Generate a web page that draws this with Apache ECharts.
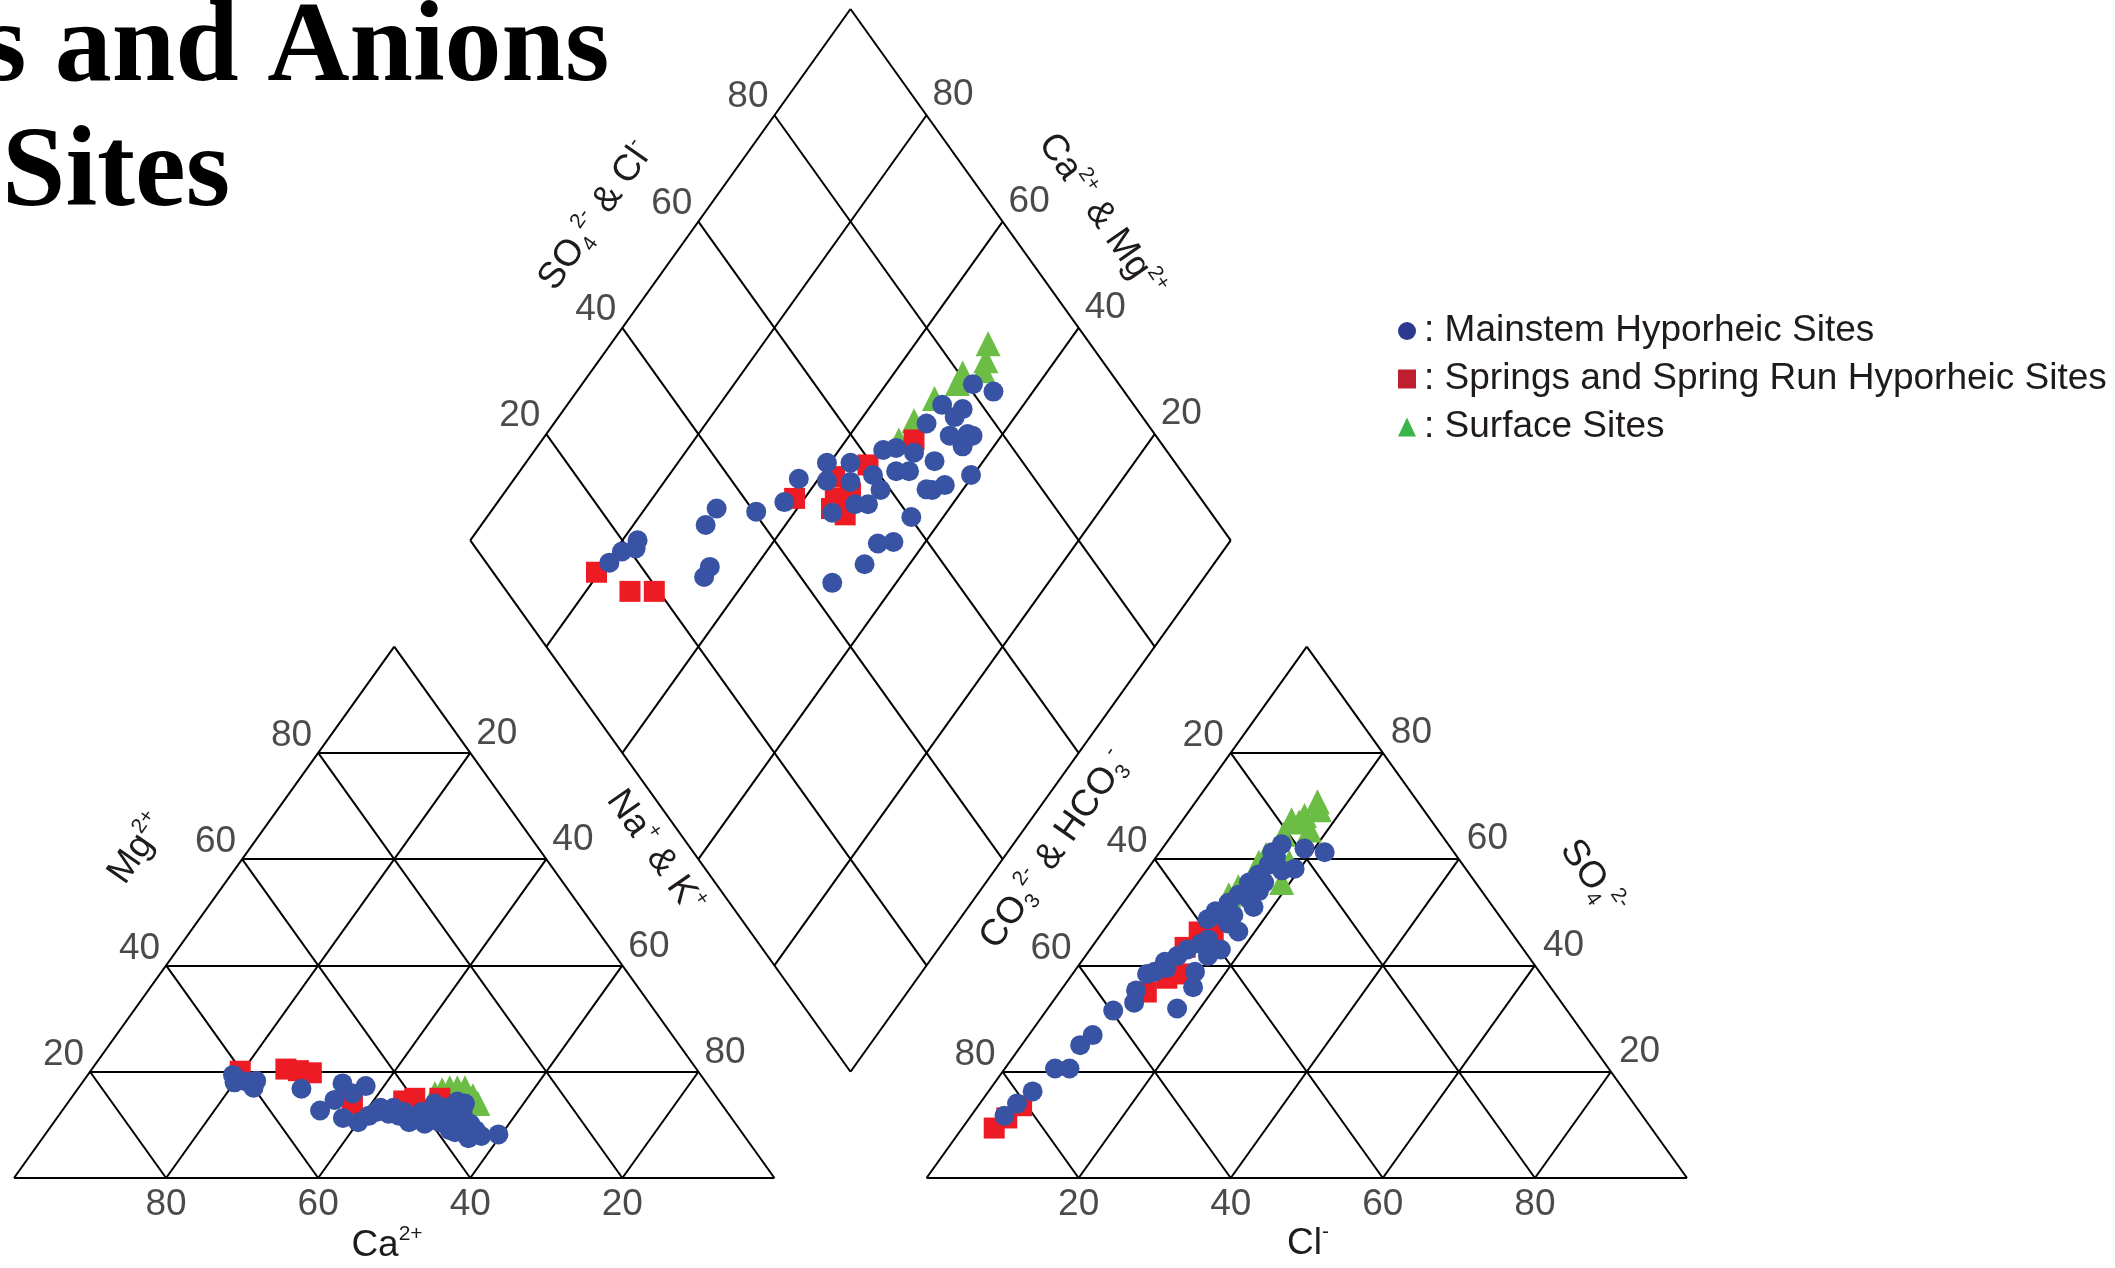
<!DOCTYPE html>
<html>
<head>
<meta charset="utf-8">
<script src="https://cdn.jsdelivr.net/npm/echarts@6/dist/echarts.min.js"></script>
<style>html,body{margin:0;padding:0;background:#fff}#c{width:2115px;height:1268px}</style>
</head>
<body>
<div id="c"></div>
<script>
// ---------------- DATA ----------------
const tickValues = [20, 40, 60, 80];
const seriesNames = ['Mainstem Hyporheic Sites', 'Springs and Spring Run Hyporheic Sites', 'Surface Sites'];

// Cation triangle: [Ca %, Mg %]  (Na+K = 100 - Ca - Mg)
const cationMainstem = [
  [60.5,18.2],[61.5,19.4],[60.0,17.0],[59.0,18.3],[62.0,18.0],
  [53.8,16.8],[47.9,17.8],[45.1,17.3],[50.5,14.7],[47.5,15.9],
  [53.4,12.7],[51.1,11.3],[49.5,10.5],[46.2,12.4],[43.5,13.2],
  [42.5,12.4],[41.7,11.3],[40.2,12.4],[38.8,11.7],[36.7,13.2],
  [38.2,9.0],[34.5,14.4],[33.7,14.0],[35.6,11.3],[34.9,10.2],
  [34.8,9.0],[36.5,7.5],[34.6,7.9],[32.2,8.2],[44.7,12.1],
  [43.5,11.7],[42.8,10.5],[40.9,10.2],[38.8,10.5],[36.6,12.1],
  [45.2,13.2],[47.5,11.7],[37.7,14.0],[34.8,12.4],[37.9,10.2],[37.7,8.6]
];
const cationSprings = [
  [60.2,20.1],[54.0,20.5],[52.5,20.2],[51.0,19.8],[48.5,14.0],[41.5,14.5],[39.8,15.0],[36.5,15.0]
];
const cationSurface = [
  [36.7,15.9],[35.4,16.6],[34.2,17.0],[33.2,17.0],[32.2,17.0],[31.9,15.5],[32.0,14.0]
];

// Anion triangle: [Cl %, SO4 %]  (CO3+HCO3 = 100 - Cl - SO4)
const anionMainstem = [
  [4.4,11.7],[4.9,14.0],[5.8,16.3],[6.6,20.6],[8.5,20.6],[7.7,25.0],[8.4,26.9],[8.8,31.5],
  [10.8,33.0],[9.9,35.3],[17.0,31.9],[17.1,35.9],[15.9,38.8],[10.6,38.8],[11.0,40.7],[12.1,41.8],
  [12.8,43.0],[14.0,44.1],[17.2,43.0],[12.6,48.7],[12.9,50.2],[13.8,51.8],[17.8,46.4],[14.4,53.3],
  [14.6,55.6],[17.5,51.0],[15.1,57.1],[16.6,55.6],[15.5,59.0],[15.7,60.5],[15.3,62.8],[17.8,57.9],
  [19.3,58.2],[18.7,62.0],[21.7,61.3],[14.6,44.9],[14.5,49.1],[15.6,49.5],[16.7,54.0],[16.1,52.5],
  [15.7,47.9],[11.8,39.5],[9.8,38.4],[16.1,41.8],[14.8,61.3]
];
const anionSprings = [
  [4.2,9.4],[4.9,11.3],[5.7,13.6],[11.4,35.0],[12.8,37.6],[14.1,38.4],[12.3,43.4],[13.5,45.6],[14.7,46.0],[12.7,46.3]
];
const anionSurface = [
  [16.0,70.8],[17.0,69.3],[15.6,68.2],[14.3,67.4],[14.6,64.7],[17.6,65.5],[14.2,60.9],
  [14.0,59.4],[18.9,55.6],[14.4,57.1],[13.6,54.8],[13.1,53.3],[18.0,59.4],[15.5,67.0]
];

// Diamond: [SO4+Cl %, Ca+Mg %]
const diamondMainstem = [
  [16.2,79.6],[18.9,79.0],[22.0,78.0],[21.0,77.5],[27.3,65.8],[29.0,66.0],[32.4,70.5],[35.4,70.6],
  [40.3,65.1],[44.9,62.3],[49.0,62.6],[54.2,60.4],[52.5,58.7],[50.2,55.0],[57.3,57.3],[55.5,55.5],
  [54.0,52.8],[55.7,51.1],[59.1,53.2],[58.7,50.8],[62.8,54.2],[64.7,52.7],[62.5,50.5],[64.2,48.8],
  [60.2,44.2],[66.6,49.9],[71.0,51.0],[64.8,44.8],[68.5,46.4],[67.6,42.8],[74.8,50.7],[77.1,47.6],
  [75.4,44.6],[73.6,44.1],[75.9,43.8],[72.0,40.3],[72.9,46.8],[75.3,47.9],[80.8,48.6],[82.8,45.2],
  [65.5,44.0],[53.3,46.1],[55.5,44.2],[49.6,45.9],[43.6,48.4]
];
const diamondSprings = [
  [13.6,80.4],[16.2,74.2],[19.4,71.0],[46.6,61.3],[53.9,58.1],[51.7,53.1],[59.4,54.8],[54.4,54.4],
  [67.8,51.1],[52.0,56.0],[50.5,55.5]
];
const diamondSurface = [
  [86.6,50.4],[84.7,49.1],[83.4,48.5],[78.8,50.7],[74.4,52.3],[69.6,52.9],[65.8,53.1],[80.5,51.0]
];

// ---------------- GEOMETRY (Piper units, triangle side = 100) ----------------
const SQ = Math.sqrt(3) / 2;
function catXY(ca, mg) { const nak = 100 - ca - mg; return [nak + mg / 2, mg * SQ]; }
function anXY(cl, so4) { return [120 + cl + so4 / 2, so4 * SQ]; }
function diaXY(s, c) { return [110 + (s - c) / 2, 20 * SQ + (s + c) * SQ]; }

const seg = (a, b) => ({ coords: [a, b] });
const gridSegs = [];
gridSegs.push(seg(catXY(100,0), catXY(0,0)), seg(catXY(0,0), catXY(0,100)), seg(catXY(0,100), catXY(100,0)));
gridSegs.push(seg(anXY(0,0), anXY(100,0)), seg(anXY(100,0), anXY(0,100)), seg(anXY(0,100), anXY(0,0)));
tickValues.forEach(t => {
  gridSegs.push(seg(catXY(100 - t, t), catXY(0, t)));
  gridSegs.push(seg(catXY(t, 100 - t), catXY(t, 0)));
  gridSegs.push(seg(catXY(100 - t, 0), catXY(0, 100 - t)));
  gridSegs.push(seg(anXY(0, t), anXY(100 - t, t)));
  gridSegs.push(seg(anXY(t, 0), anXY(t, 100 - t)));
  gridSegs.push(seg(anXY(100 - t, 0), anXY(0, 100 - t)));
});
[0].concat(tickValues, [100]).forEach(t => {
  gridSegs.push(seg(diaXY(t, 0), diaXY(t, 100)));
  gridSegs.push(seg(diaXY(0, t), diaXY(100, t)));
});

const FONT = '"Liberation Sans", Arial, Helvetica, sans-serif';
const TXT = '#1f1b1c';

function labelSeries(points, align, offset) {
  return {
    type: 'scatter', silent: true, symbolSize: 1, clip: false, z: 5,
    itemStyle: { color: 'rgba(0,0,0,0)' },
    data: points.map(p => [p[0][0], p[0][1], p[1]]),
    label: {
      show: true, position: 'inside', formatter: p => String(p.value[2]),
      align: align, verticalAlign: 'middle', offset: offset,
      fontSize: 37, fontFamily: FONT, color: TXT
    }
  };
}

const labelSets = [
  labelSeries(tickValues.map(t => [catXY(t, 0), t]), 'center', [0, 27]),
  labelSeries(tickValues.map(t => [catXY(100 - t, t), t]), 'right', [-6, -17]),
  labelSeries(tickValues.map(t => [catXY(0, 100 - t), t]), 'left', [6, -19]),
  labelSeries(tickValues.map(t => [anXY(t, 0), t]), 'center', [0, 27]),
  labelSeries(tickValues.map(t => [anXY(0, 100 - t), t]), 'right', [-7, -17]),
  labelSeries(tickValues.map(t => [anXY(100 - t, t), t]), 'left', [8, -20]),
  labelSeries(tickValues.map(t => [diaXY(t, 100), t]), 'right', [-6, -18]),
  labelSeries(tickValues.map(t => [diaXY(100, t), t]), 'left', [6, -20])
];

function pts(cat, an, dia) {
  return cat.map(p => catXY(p[0], p[1]))
    .concat(an.map(p => anXY(p[0], p[1])))
    .concat(dia.map(p => diaXY(p[0], p[1])));
}

const rich = {
  sup: { fontSize: 21, lineHeight: 24, verticalAlign: 'top', fill: TXT, fontFamily: FONT },
  sub: { fontSize: 21, lineHeight: 24, verticalAlign: 'bottom', fill: TXT, fontFamily: FONT }
};
function axisTitle(text, x, y, deg) {
  return {
    type: 'text', x: x, y: y, rotation: deg * Math.PI / 180, z: 10,
    style: { text: text, fontFamily: FONT, fontSize: 37, fill: TXT, align: 'center', verticalAlign: 'middle', lineHeight: 44, rich: rich }
  };
}

const chart = echarts.init(document.getElementById('c'), null, { renderer: 'canvas', width: 2115, height: 1268 });
chart.setOption({
  animation: false,
  backgroundColor: '#ffffff',
  grid: { left: 14, right: 428, top: 9, bottom: 90 },
  xAxis: { type: 'value', min: 0, max: 220, show: false },
  yAxis: { type: 'value', min: 0, max: 220 * SQ, show: false },
  legend: {
    orient: 'vertical', left: 1393, top: 306, itemWidth: 18, itemHeight: 19, itemGap: 8,
    selectedMode: false,
    formatter: n => ': ' + n,
    textStyle: { fontFamily: FONT, fontSize: 37, color: TXT, lineHeight: 40, padding: [0, 0, 0, 3] },
    data: [
      { name: seriesNames[0], icon: 'circle', itemStyle: { color: '#2b3990' } },
      { name: seriesNames[1], icon: 'rect', itemStyle: { color: '#be1e2d' } },
      { name: seriesNames[2], icon: 'triangle', itemStyle: { color: '#39b54a' } }
    ]
  },
  graphic: [
    { type: 'text', x: -18, y: 51, z: 10, style: { text: 's and Anions', fontFamily: '"Liberation Serif", "Times New Roman", serif', fontWeight: 'bold', fontSize: 114, fill: '#000', align: 'left', verticalAlign: 'middle' } },
    { type: 'text', x: 2, y: 176, z: 10, style: { text: 'Sites', fontFamily: '"Liberation Serif", "Times New Roman", serif', fontWeight: 'bold', fontSize: 114, fill: '#000', align: 'left', verticalAlign: 'middle' } },
    axisTitle('Mg{sup|2+}', 138, 849, 55),
    axisTitle('Ca{sup|2+}', 387, 1246, 0),
    axisTitle('Na{sup|+} & K{sup|+}', 655, 852, -55),
    axisTitle('SO{sub|4}{sup|2-} & Cl{sup|-}', 596, 216, 55),
    axisTitle('Ca{sup|2+} & Mg{sup|2+}', 1101, 216, -55),
    axisTitle('CO{sub|3}{sup|2-} & HCO{sub|3}{sup|-}', 1055, 850, 55),
    axisTitle('SO{sub|4}{sup|2-}', 1592, 878, -55),
    axisTitle('Cl{sup|-}', 1308, 1244, 0)
  ],
  series: [
    {
      type: 'lines', coordinateSystem: 'cartesian2d', silent: true, z: 1,
      lineStyle: { color: '#000', width: 2, opacity: 1, curveness: 0 },
      data: gridSegs
    },
    ...labelSets,
    {
      name: seriesNames[2], type: 'scatter', symbol: 'triangle', symbolSize: 25, clip: false, z: 3,
      itemStyle: { color: '#6cbd45', opacity: 1 },
      data: pts(cationSurface, anionSurface, diamondSurface)
    },
    {
      name: seriesNames[1], type: 'scatter', symbol: 'rect', symbolSize: 21, clip: false, z: 3,
      itemStyle: { color: '#ed1c24', opacity: 1 },
      data: pts(cationSprings, anionSprings, diamondSprings)
    },
    {
      name: seriesNames[0], type: 'scatter', symbol: 'circle', symbolSize: 20, clip: false, z: 3,
      itemStyle: { color: '#3953a4', opacity: 1 },
      data: pts(cationMainstem, anionMainstem, diamondMainstem)
    }
  ]
});
</script>
</body>
</html>
